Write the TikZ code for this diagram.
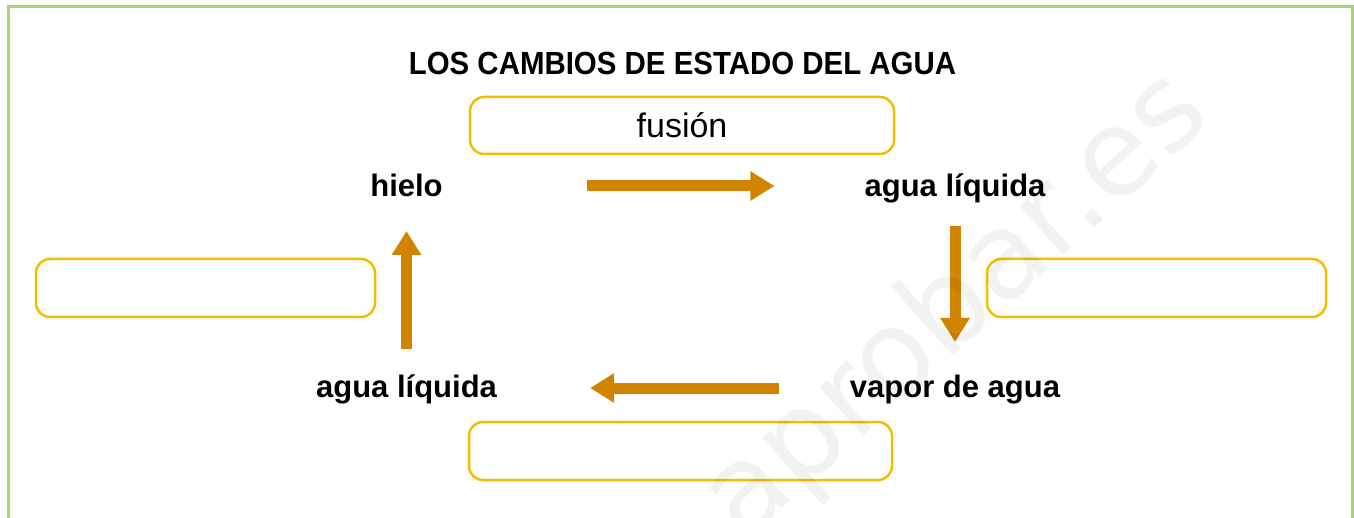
\documentclass[tikz,border=0pt]{standalone}
\usepackage{fontspec}
\setmainfont{Liberation Sans}
\newfontfamily\titlefont{Liberation Sans}[FakeStretch=0.92]
\newfontfamily\wmfont{DejaVu Sans}
\usetikzlibrary{arrows.meta}
\definecolor{frameg}{RGB}{166,212,110}
\definecolor{boxy}{RGB}{245,189,0}
\definecolor{arrowc}{RGB}{208,132,0}
\tikzset{
  blank/.style={draw=boxy, line width=2.5pt, rounded corners=14pt, fill=none},
  lbl/.style={font=\fontsize{31}{34}\selectfont\bfseries, inner sep=0pt, anchor=base},
  bigarrow/.style={draw=arrowc, line width=11pt, -{Triangle[width=28pt,length=24pt]}},
}
\begin{document}
\begin{tikzpicture}[x=1pt,y=-1pt]
\useasboundingbox (0,0) rectangle (1354,518);
% frame
\draw[frameg, line width=2.8pt] (8.6,530) -- (8.6,6.4) -- (1352.4,6.4) -- (1352.4,530);
% title
\node[inner sep=0pt, anchor=base, font=\titlefont\fontsize{32}{36}\selectfont\bfseries] (title) at (682.5,75) {LOS CAMBIOS DE ESTADO DEL AGUA};
% boxes
\node[blank, minimum width=424pt, minimum height=57pt, text height=25pt, text depth=0pt, font=\fontsize{34}{38}\selectfont] (fusion) at (682,125.5) {fusión};
\node[blank, minimum width=339pt, minimum height=58pt] (boxL) at (205.5,288) {};
\node[blank, minimum width=339pt, minimum height=58pt] (boxR) at (1156.5,288) {};
\node[blank, minimum width=423pt, minimum height=58pt] (boxB) at (680.5,451) {};
% labels
\node[lbl] (hielo) at (406.5,197) {hielo};
\node[lbl] (aguaA) at (955,197) {agua líquida};
\node[lbl] (vapor) at (955,397) {vapor de agua};
\node[lbl] (aguaB) at (406.5,397) {agua líquida};
% arrows
\draw[bigarrow, shorten <=144pt, shorten >=90pt] ([yshift=11pt]hielo.base east) -- ([yshift=11pt]aguaA.base west);
\draw[bigarrow, shorten <=29pt, shorten >=55pt] (aguaA.base) -- (vapor.base);
\draw[bigarrow, shorten <=71pt, shorten >=93pt] ([yshift=9pt]vapor.base west) -- ([yshift=9pt]aguaB.base east);
\draw[bigarrow, shorten <=48pt, shorten >=34pt] (aguaB.base) -- (hielo.base);
% watermark
\node[rotate=42, anchor=base east, inner sep=0pt, text=black, text opacity=0.05, font=\wmfont\fontsize{120}{125}\selectfont] (wm) at (1214,120) {aprobar.es};
\end{tikzpicture}
\end{document}
